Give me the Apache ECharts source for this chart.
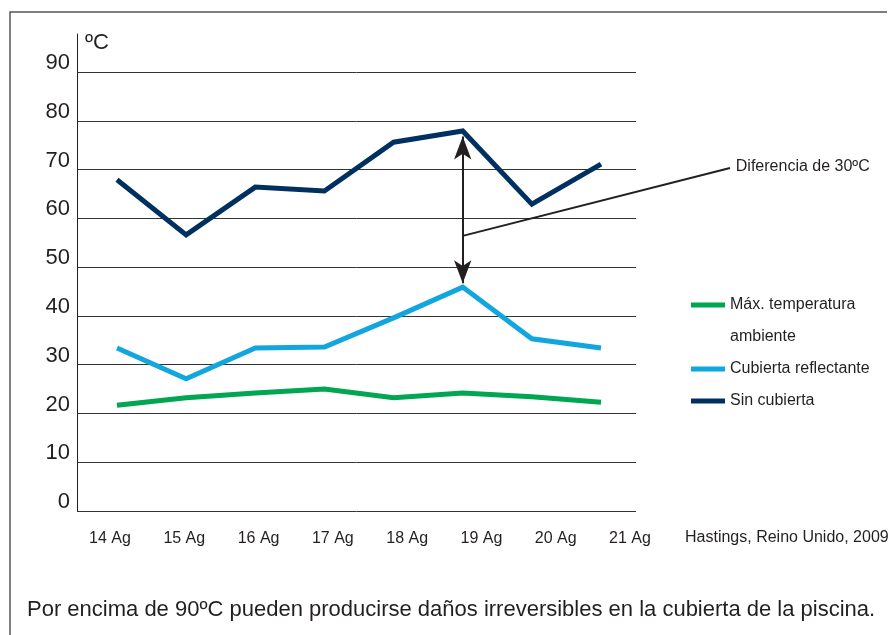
<!DOCTYPE html>
<html>
<head>
<meta charset="utf-8">
<script src="https://cdn.jsdelivr.net/npm/echarts@6/dist/echarts.min.js"></script>
<style>
  html, body { margin: 0; padding: 0; background: #fff; }
  #chart { width: 895px; height: 635px; }
</style>
</head>
<body>
<div id="chart"></div>
<script>
var days = ['14 Ag', '15 Ag', '16 Ag', '17 Ag', '18 Ag', '19 Ag', '20 Ag', '21 Ag'];
var maxAmbiente = [21.7, 23.2, 24.2, 25.0, 23.2, 24.2, 23.4, 22.3];
var cubiertaReflectante = [33.4, 27.1, 33.4, 33.6, 39.6, 45.9, 35.3, 33.4];
var sinCubierta = [67.9, 56.6, 66.4, 65.6, 75.6, 77.9, 62.9, 71.1];
var yTicks = [0, 10, 20, 30, 40, 50, 60, 70, 80, 90];

var font = 'Liberation Sans, Arial, Helvetica, sans-serif';
var textColor = '#231f20';
var ambienteName = 'Máx. temperatura\nambiente';

var chart = echarts.init(document.getElementById('chart'));

var option = {
    backgroundColor: '#fff',
    animation: false,
    textStyle: { fontFamily: font },
    grid: [
        // axis line only (runs above the 90 line)
        { left: 77, right: 259, top: 34, bottom: 124 },
        // split lines + y labels
        { left: 77, right: 259, top: 72, bottom: 124 },
        // day labels
        { left: 110, right: 265, top: 72, bottom: 124 },
        // series
        { left: 117, right: 294, top: 72, bottom: 124 }
    ],
    xAxis: [
        { gridIndex: 0, type: 'value', show: false },
        { gridIndex: 1, type: 'value', show: false },
        {
            gridIndex: 2, type: 'category', data: days, boundaryGap: false,
            axisLine: { show: false }, axisTick: { show: false },
            axisLabel: { margin: 20, fontSize: 16, color: textColor, fontFamily: font }
        },
        { gridIndex: 3, type: 'category', data: days, boundaryGap: false, show: false }
    ],
    yAxis: [
        {
            gridIndex: 0, type: 'value', min: 0, max: 1,
            axisLine: { show: true, lineStyle: { color: '#231f20', width: 1 } },
            axisTick: { show: false }, axisLabel: { show: false }, splitLine: { show: false }
        },
        {
            gridIndex: 1, type: 'value', min: yTicks[0], max: yTicks[yTicks.length - 1], interval: 10,
            axisLine: { show: false }, axisTick: { show: false },
            axisLabel: {
                margin: 7, fontSize: 22, color: textColor, fontFamily: font,
                verticalAlign: 'bottom', lineHeight: 18
            },
            splitLine: { show: true, lineStyle: { color: '#333', width: 1 } }
        },
        { gridIndex: 2, type: 'value', min: 0, max: 90, show: false },
        { gridIndex: 3, type: 'value', min: 0, max: 90, show: false }
    ],
    legend: {
        orient: 'vertical',
        left: 691,
        top: 257,
        padding: 0,
        itemWidth: 34,
        itemHeight: 5,
        itemGap: 0,
        icon: 'rect',
        textStyle: { fontSize: 16, lineHeight: 32, color: textColor, fontFamily: font },
        // blank first line keeps the swatch level with the first text line
        formatter: function (name) {
            return name === ambienteName ? ' \n' + name : name;
        },
        data: [ambienteName, 'Cubierta reflectante', 'Sin cubierta']
    },
    series: [
        {
            name: ambienteName, type: 'line', xAxisIndex: 3, yAxisIndex: 3,
            data: maxAmbiente, showSymbol: false, symbol: 'none',
            itemStyle: { color: '#00a651' },
            lineStyle: { color: '#00a651', width: 5, join: 'miter' }
        },
        {
            name: 'Cubierta reflectante', type: 'line', xAxisIndex: 3, yAxisIndex: 3,
            data: cubiertaReflectante, showSymbol: false, symbol: 'none',
            itemStyle: { color: '#12a6de' },
            lineStyle: { color: '#12a6de', width: 5, join: 'miter' }
        },
        {
            name: 'Sin cubierta', type: 'line', xAxisIndex: 3, yAxisIndex: 3,
            data: sinCubierta, showSymbol: false, symbol: 'none',
            itemStyle: { color: '#00305f' },
            lineStyle: { color: '#00305f', width: 5, join: 'miter' },
            markLine: {
                silent: true,
                animation: false,
                data: [
                    [
                        { coord: ['19 Ag', 76.8], symbol: 'arrow', symbolSize: [13, 23] },
                        { coord: ['19 Ag', 46.7], symbol: 'arrow', symbolSize: [13, 23] }
                    ],
                    [
                        { coord: ['19 Ag', 56.4], symbol: 'none' },
                        {
                            x: 730, y: 168, symbol: 'none',
                            label: {
                                show: true, position: 'end', distance: 6,
                                formatter: 'Diferencia de 30ºC',
                                fontSize: 16, color: textColor, fontFamily: font
                            }
                        }
                    ]
                ],
                lineStyle: { color: '#231f20', width: 2, type: 'solid' },
                label: { show: false },
                emphasis: { disabled: true }
            }
        }
    ],
    graphic: [
        {
            type: 'polyline', silent: true,
            shape: { points: [[10, 635], [10, 12], [887, 12]] },
            style: { stroke: '#555', lineWidth: 1.5, fill: null }
        },
        {
            type: 'text', left: 85, top: 32, silent: true,
            style: { text: 'ºC', fontSize: 22, fill: textColor, fontFamily: font }
        },
        {
            type: 'text', left: 685, top: 530, silent: true,
            style: { text: 'Hastings, Reino Unido, 2009', fontSize: 16, fill: textColor, fontFamily: font }
        },
        {
            type: 'text', left: 27, top: 599, silent: true,
            style: {
                text: 'Por encima de 90ºC pueden producirse daños irreversibles en la cubierta de la piscina.',
                fontSize: 22, fill: textColor, fontFamily: font
            }
        }
    ]
};

chart.setOption(option);
</script>
</body>
</html>
